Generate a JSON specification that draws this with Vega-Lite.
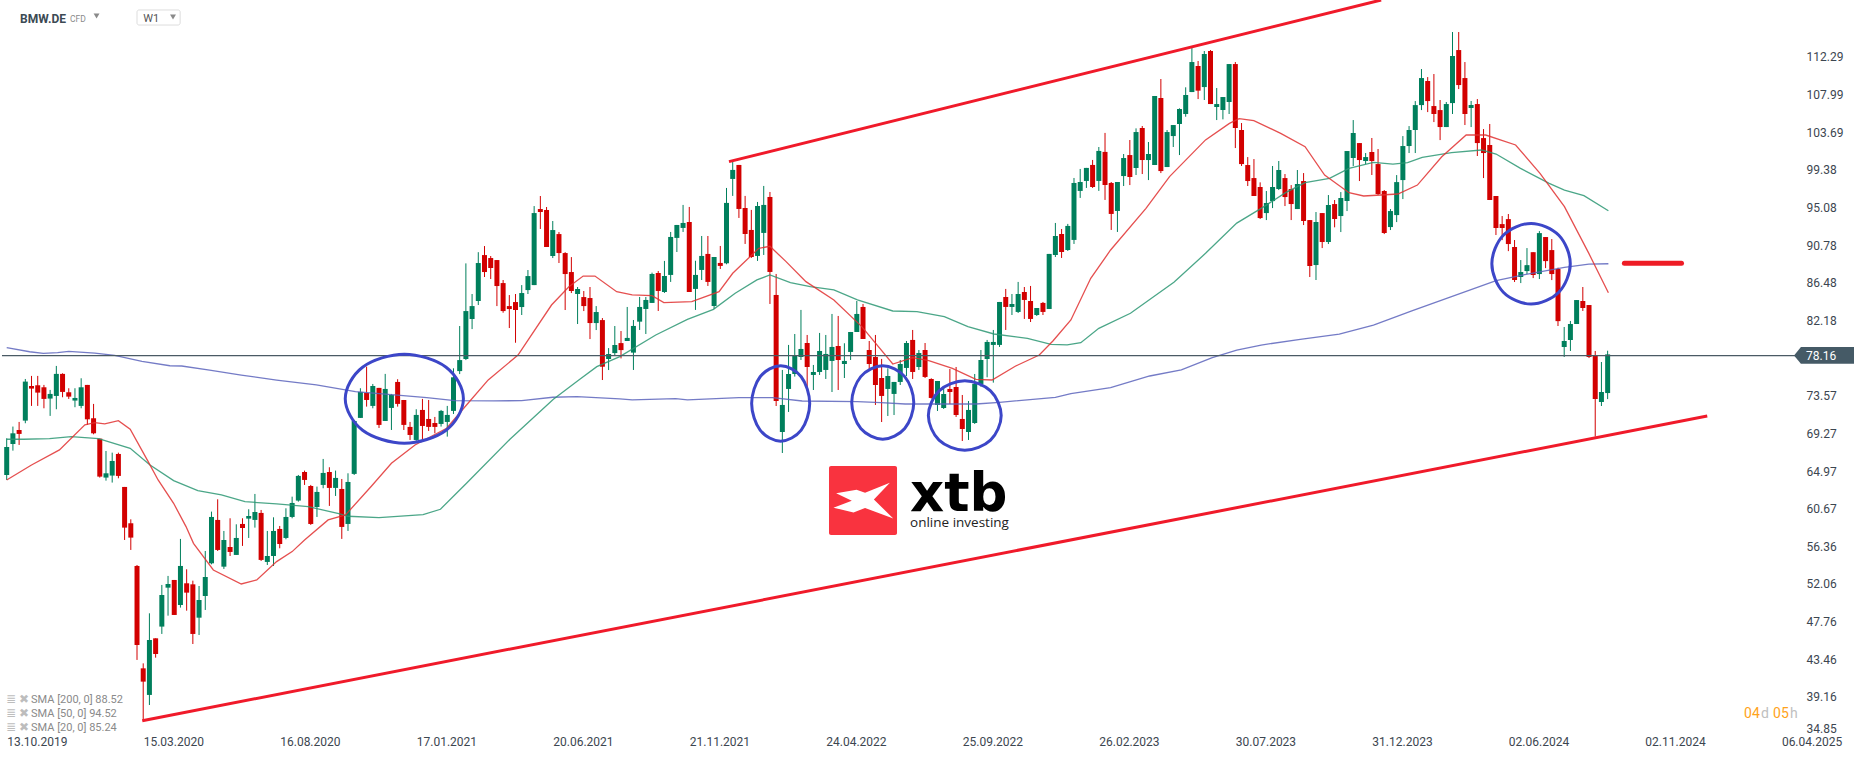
{
"$schema":"https://vega.github.io/schema/vega-lite/v6.json",
"description":"BMW.DE weekly candles with SMA lines and channel",
"width":1866,"height":759,"padding":{"left":0,"top":0,"right":0,"bottom":0},"background":"white",
"autosize":{"type":"none"},
"config":{"view":{"stroke":null},"text":{"font":"Roboto"}},
"datasets":{
"candles":[
{"w":0,"o":64.52,"h":68.71,"l":63.95,"c":67.72},{"w":1,"o":68.06,"h":70.05,"l":67.30,"c":69.28},{"w":2,"o":69.66,"h":70.58,"l":67.95,"c":69.21},{"w":3,"o":70.73,"h":75.49,"l":70.43,"c":75.19},{"w":4,"o":74.69,"h":75.84,"l":72.41,"c":74.39},{"w":5,"o":74.77,"h":75.84,"l":72.41,"c":73.93},{"w":6,"o":74.54,"h":74.81,"l":72.14,"c":73.21},{"w":7,"o":73.25,"h":74.24,"l":71.27,"c":73.78},{"w":8,"o":73.55,"h":76.98,"l":72.03,"c":76.07},{"w":9,"o":76.07,"h":76.14,"l":73.40,"c":74.01},
{"w":10,"o":73.97,"h":74.43,"l":73.21,"c":73.47},{"w":11,"o":73.02,"h":74.43,"l":72.26,"c":73.32},{"w":12,"o":72.41,"h":75.57,"l":72.14,"c":74.54},{"w":13,"o":74.81,"h":74.81,"l":70.24,"c":70.88},{"w":14,"o":71.0,"h":72.64,"l":69.17,"c":69.28},{"w":15,"o":68.67,"h":68.67,"l":64.22,"c":64.33},{"w":16,"o":64.22,"h":67.26,"l":63.87,"c":64.71},{"w":17,"o":64.45,"h":67.07,"l":63.65,"c":66.12},{"w":18,"o":66.92,"h":67.07,"l":64.14,"c":64.41},{"w":19,"o":63.15,"h":63.15,"l":57.09,"c":58.50},
{"w":20,"o":59.0,"h":59.45,"l":55.95,"c":57.36},{"w":21,"o":54.12,"h":54.23,"l":43.38,"c":45.09},{"w":22,"o":42.42,"h":42.99,"l":36.44,"c":40.90},{"w":23,"o":39.38,"h":48.71,"l":38.23,"c":45.66},{"w":24,"o":45.85,"h":45.85,"l":43.64,"c":44.06},{"w":25,"o":47.19,"h":51.95,"l":46.35,"c":50.80},{"w":26,"o":51.64,"h":52.98,"l":48.44,"c":52.06},{"w":27,"o":52.52,"h":52.52,"l":48.52,"c":48.52},{"w":28,"o":49.66,"h":57.21,"l":49.36,"c":54.12},{"w":29,"o":52.14,"h":53.74,"l":49.01,"c":51.07},
{"w":30,"o":52.02,"h":52.44,"l":45.20,"c":46.35},{"w":31,"o":48.21,"h":51.83,"l":46.23,"c":50.23},{"w":32,"o":50.69,"h":55.83,"l":49.09,"c":52.86},{"w":33,"o":54.42,"h":60.33,"l":54.31,"c":59.72},{"w":34,"o":59.38,"h":61.74,"l":55.83,"c":55.95},{"w":35,"o":54.04,"h":58.12,"l":53.78,"c":57.09},{"w":36,"o":56.29,"h":59.57,"l":55.26,"c":55.72},{"w":37,"o":55.38,"h":58.88,"l":55.38,"c":57.32},{"w":38,"o":58.92,"h":59.57,"l":56.41,"c":58.46},{"w":39,"o":59.53,"h":60.60,"l":57.32,"c":59.83},
{"w":40,"o":59.38,"h":62.35,"l":58.50,"c":60.29},{"w":41,"o":60.18,"h":60.52,"l":54.69,"c":54.81},{"w":42,"o":54.58,"h":58.12,"l":54.23,"c":55.26},{"w":43,"o":55.26,"h":59.68,"l":54.12,"c":58.12},{"w":44,"o":58.35,"h":58.69,"l":56.14,"c":56.63},{"w":45,"o":57.32,"h":60.71,"l":57.17,"c":59.72},{"w":46,"o":59.72,"h":62.04,"l":59.57,"c":61.32},{"w":47,"o":61.59,"h":64.52,"l":61.47,"c":64.41},{"w":48,"o":64.86,"h":65.02,"l":63.38,"c":63.95},{"w":49,"o":63.26,"h":63.38,"l":58.81,"c":58.92},
{"w":50,"o":60.86,"h":63.19,"l":59.72,"c":62.58},{"w":51,"o":63.38,"h":66.35,"l":63.0,"c":64.75},{"w":52,"o":64.86,"h":65.4,"l":60.98,"c":63.04},{"w":53,"o":63.04,"h":65.02,"l":62.12,"c":64.18},{"w":54,"o":62.92,"h":64.06,"l":57.21,"c":58.58},{"w":55,"o":58.92,"h":64.71,"l":58.12,"c":63.72},{"w":56,"o":64.64,"h":70.81,"l":64.52,"c":70.69},{"w":57,"o":71.04,"h":74.43,"l":71.04,"c":74.01},{"w":58,"o":73.89,"h":76.90,"l":72.33,"c":73.09},{"w":59,"o":72.41,"h":74.92,"l":72.14,"c":74.69},
{"w":60,"o":74.47,"h":74.47,"l":69.89,"c":70.24},{"w":61,"o":70.69,"h":76.07,"l":70.69,"c":74.35},{"w":62,"o":72.18,"h":73.78,"l":69.66,"c":73.67},{"w":63,"o":75.15,"h":75.46,"l":72.33,"c":72.64},{"w":64,"o":73.09,"h":73.09,"l":69.66,"c":70.24},{"w":65,"o":70.01,"h":70.58,"l":68.52,"c":69.09},{"w":66,"o":68.52,"h":72.03,"l":68.41,"c":71.38},{"w":67,"o":71.95,"h":73.21,"l":68.52,"c":70.12},{"w":68,"o":70.92,"h":73.09,"l":69.55,"c":70.01},{"w":69,"o":70.46,"h":71.15,"l":69.28,"c":70.01},
{"w":70,"o":70.35,"h":71.95,"l":70.05,"c":71.84},{"w":71,"o":70.58,"h":72.41,"l":68.90,"c":71.38},{"w":72,"o":71.84,"h":76.71,"l":71.49,"c":75.68},{"w":73,"o":76.39,"h":81.54,"l":76.05,"c":77.65},{"w":74,"o":77.77,"h":88.70,"l":77.65,"c":83.25},{"w":75,"o":82.34,"h":85.20,"l":81.19,"c":83.82},{"w":76,"o":84.40,"h":89.98,"l":83.94,"c":88.74},{"w":77,"o":89.65,"h":90.68,"l":87.14,"c":87.71},{"w":78,"o":89.31,"h":89.54,"l":86.91,"c":88.17},{"w":79,"o":89.08,"h":89.08,"l":83.82,"c":86.11},
{"w":80,"o":86.45,"h":86.80,"l":83.06,"c":83.25},{"w":81,"o":83.82,"h":85.08,"l":81.31,"c":83.48},{"w":82,"o":84.28,"h":85.20,"l":79.63,"c":83.37},{"w":83,"o":83.71,"h":86.22,"l":82.80,"c":85.31},{"w":84,"o":85.65,"h":87.94,"l":85.20,"c":87.25},{"w":85,"o":86.22,"h":95.25,"l":86.22,"c":94.45},{"w":86,"o":94.91,"h":96.40,"l":92.63,"c":94.57},{"w":87,"o":94.80,"h":95.14,"l":90.57,"c":90.57},{"w":88,"o":89.54,"h":93.54,"l":89.31,"c":92.51},{"w":89,"o":92.05,"h":92.28,"l":88.74,"c":89.88},
{"w":90,"o":89.88,"h":89.98,"l":83.37,"c":87.48},{"w":91,"o":87.71,"h":89.42,"l":85.31,"c":85.54},{"w":92,"o":85.20,"h":86.0,"l":81.77,"c":85.77},{"w":93,"o":84.85,"h":85.54,"l":83.25,"c":83.82},{"w":94,"o":84.74,"h":86.0,"l":80.05,"c":81.88},{"w":95,"o":81.88,"h":83.82,"l":81.08,"c":83.14},{"w":96,"o":82.22,"h":82.45,"l":75.37,"c":76.89},{"w":97,"o":77.77,"h":79.02,"l":76.51,"c":78.34},{"w":98,"o":78.45,"h":81.54,"l":78.22,"c":79.37},{"w":99,"o":79.59,"h":80.97,"l":77.84,"c":78.79},
{"w":100,"o":79.83,"h":83.72,"l":79.83,"c":80.18},{"w":101,"o":78.50,"h":82.23,"l":76.52,"c":81.55},{"w":102,"o":82.04,"h":84.86,"l":81.09,"c":83.72},{"w":103,"o":83.49,"h":84.86,"l":80.63,"c":84.52},{"w":104,"o":84.18,"h":87.64,"l":84.18,"c":87.49},{"w":105,"o":87.60,"h":87.83,"l":83.26,"c":85.55},{"w":106,"o":85.43,"h":88.98,"l":85.32,"c":87.26},{"w":107,"o":87.38,"h":92.29,"l":86.58,"c":91.72},{"w":108,"o":91.61,"h":93.09,"l":90.0,"c":93.09},{"w":109,"o":92.75,"h":95.38,"l":92.29,"c":93.32},
{"w":110,"o":93.43,"h":95.15,"l":85.43,"c":85.43},{"w":111,"o":85.78,"h":89.0,"l":83.38,"c":87.38},{"w":112,"o":87.95,"h":91.83,"l":86.80,"c":89.55},{"w":113,"o":89.78,"h":91.83,"l":86.12,"c":86.58},{"w":114,"o":83.83,"h":89.43,"l":83.49,"c":89.43},{"w":115,"o":88.75,"h":90.69,"l":88.06,"c":88.41},{"w":116,"o":88.71,"h":97.32,"l":88.60,"c":95.61},{"w":117,"o":98.35,"h":100.29,"l":96.41,"c":99.38},{"w":118,"o":99.95,"h":99.95,"l":93.89,"c":94.92},{"w":119,"o":95.03,"h":96.41,"l":90.92,"c":92.06},
{"w":120,"o":92.52,"h":94.81,"l":89.32,"c":89.43},{"w":121,"o":89.55,"h":95.72,"l":88.98,"c":95.26},{"w":122,"o":92.18,"h":97.55,"l":89.66,"c":95.38},{"w":123,"o":96.29,"h":96.86,"l":84.06,"c":87.72},{"w":124,"o":85.09,"h":87.49,"l":72.40,"c":72.97},{"w":125,"o":69.43,"h":76.52,"l":67.03,"c":72.52},{"w":126,"o":74.35,"h":79.38,"l":71.72,"c":76.06},{"w":127,"o":76.06,"h":80.63,"l":75.76,"c":78.12},{"w":128,"o":78.0,"h":83.38,"l":77.66,"c":78.92},{"w":129,"o":79.60,"h":80.52,"l":74.23,"c":76.86},
{"w":130,"o":75.95,"h":77.09,"l":74.23,"c":76.29},{"w":131,"o":76.29,"h":80.75,"l":75.95,"c":78.69},{"w":132,"o":76.52,"h":80.52,"l":75.49,"c":78.35},{"w":133,"o":77.55,"h":82.92,"l":74.0,"c":79.15},{"w":134,"o":79.26,"h":82.69,"l":74.23,"c":77.66},{"w":135,"o":77.20,"h":79.57,"l":75.60,"c":77.55},{"w":136,"o":78.58,"h":80.86,"l":77.66,"c":80.86},{"w":137,"o":80.86,"h":84.40,"l":80.86,"c":82.92},{"w":138,"o":83.72,"h":84.06,"l":80.06,"c":80.06},{"w":139,"o":78.80,"h":79.83,"l":76.52,"c":77.20},
{"w":140,"o":78.0,"h":80.52,"l":72.52,"c":74.80},{"w":141,"o":75.60,"h":77.78,"l":70.57,"c":73.55},{"w":142,"o":74.35,"h":76.71,"l":71.26,"c":75.83},{"w":143,"o":73.78,"h":75.15,"l":71.37,"c":75.15},{"w":144,"o":75.15,"h":77.66,"l":74.80,"c":77.20},{"w":145,"o":76.75,"h":79.83,"l":75.83,"c":79.60},{"w":146,"o":79.95,"h":81.09,"l":75.49,"c":76.29},{"w":147,"o":76.86,"h":78.80,"l":76.52,"c":78.46},{"w":148,"o":78.80,"h":79.60,"l":75.60,"c":75.72},{"w":149,"o":75.49,"h":75.57,"l":73.24,"c":73.32},
{"w":150,"o":72.52,"h":75.26,"l":71.83,"c":75.26},{"w":151,"o":72.17,"h":74.42,"l":72.06,"c":73.77},{"w":152,"o":74.35,"h":76.63,"l":72.63,"c":74.0},{"w":153,"o":74.57,"h":76.86,"l":71.15,"c":71.37},{"w":154,"o":70.92,"h":73.66,"l":68.40,"c":69.77},{"w":155,"o":69.43,"h":72.97,"l":68.52,"c":71.95},{"w":156,"o":70.46,"h":76.06,"l":70.35,"c":74.92},{"w":157,"o":74.92,"h":78.80,"l":74.61,"c":77.66},{"w":158,"o":77.77,"h":79.95,"l":75.68,"c":79.72},{"w":159,"o":79.38,"h":81.09,"l":75.07,"c":79.72},
{"w":160,"o":79.38,"h":84.29,"l":79.15,"c":84.29},{"w":161,"o":84.86,"h":85.78,"l":81.09,"c":83.72},{"w":162,"o":83.72,"h":85.20,"l":82.80,"c":84.06},{"w":163,"o":83.15,"h":86.58,"l":83.03,"c":85.20},{"w":164,"o":85.43,"h":86.0,"l":82.35,"c":84.52},{"w":165,"o":84.40,"h":86.12,"l":82.0,"c":82.35},{"w":166,"o":82.80,"h":83.60,"l":82.69,"c":83.60},{"w":167,"o":84.18,"h":84.29,"l":82.80,"c":83.15},{"w":168,"o":83.49,"h":89.78,"l":83.49,"c":89.78},{"w":169,"o":89.66,"h":93.32,"l":89.43,"c":91.83},
{"w":170,"o":92.06,"h":92.63,"l":89.32,"c":90.0},{"w":171,"o":90.23,"h":93.21,"l":90.12,"c":92.98},{"w":172,"o":91.38,"h":98.46,"l":90.92,"c":97.89},{"w":173,"o":96.98,"h":99.49,"l":96.18,"c":98.0},{"w":174,"o":98.12,"h":99.61,"l":97.32,"c":99.61},{"w":175,"o":99.95,"h":100.52,"l":97.32,"c":97.43},{"w":176,"o":98.12,"h":102.0,"l":96.98,"c":101.55},{"w":177,"o":101.44,"h":103.61,"l":95.95,"c":97.66},{"w":178,"o":97.89,"h":98.0,"l":92.52,"c":94.35},{"w":179,"o":94.69,"h":98.0,"l":92.29,"c":98.0},
{"w":180,"o":98.68,"h":101.20,"l":97.54,"c":100.74},{"w":181,"o":101.08,"h":102.80,"l":97.65,"c":98.57},{"w":182,"o":99.60,"h":104.13,"l":98.80,"c":103.71},{"w":183,"o":104.17,"h":104.40,"l":98.91,"c":100.51},{"w":184,"o":100.51,"h":102.57,"l":98.22,"c":101.20},{"w":185,"o":99.94,"h":107.83,"l":99.94,"c":107.83},{"w":186,"o":107.60,"h":109.77,"l":99.02,"c":99.25},{"w":187,"o":99.71,"h":103.94,"l":99.71,"c":103.71},{"w":188,"o":103.25,"h":104.51,"l":102.0,"c":104.51},{"w":189,"o":104.63,"h":106.42,"l":101.08,"c":106.34},
{"w":190,"o":105.77,"h":108.82,"l":105.46,"c":107.94},{"w":191,"o":108.28,"h":113.31,"l":108.28,"c":111.71},{"w":192,"o":111.26,"h":111.83,"l":107.48,"c":108.44},{"w":193,"o":108.85,"h":112.97,"l":107.37,"c":112.63},{"w":194,"o":112.97,"h":113.08,"l":106.91,"c":106.91},{"w":195,"o":106.57,"h":108.74,"l":105.08,"c":106.91},{"w":196,"o":106.23,"h":107.71,"l":105.16,"c":107.71},{"w":197,"o":107.14,"h":111.48,"l":105.77,"c":111.48},{"w":198,"o":111.48,"h":111.71,"l":101.88,"c":104.17},{"w":199,"o":103.94,"h":104.74,"l":99.83,"c":100.05},
{"w":200,"o":99.94,"h":100.85,"l":97.54,"c":98.11},{"w":201,"o":98.45,"h":100.62,"l":96.40,"c":96.40},{"w":202,"o":97.43,"h":97.96,"l":93.77,"c":93.88},{"w":203,"o":94.45,"h":96.97,"l":93.65,"c":95.60},{"w":204,"o":95.82,"h":99.83,"l":95.02,"c":97.43},{"w":205,"o":97.20,"h":100.40,"l":97.08,"c":99.37},{"w":206,"o":98.45,"h":98.91,"l":95.25,"c":96.28},{"w":207,"o":97.20,"h":97.65,"l":93.65,"c":95.48},{"w":208,"o":94.91,"h":99.37,"l":94.91,"c":97.77},{"w":209,"o":98.11,"h":99.02,"l":93.08,"c":93.54},
{"w":210,"o":93.65,"h":93.65,"l":87.14,"c":88.40},{"w":211,"o":88.51,"h":94.57,"l":86.80,"c":93.43},{"w":212,"o":94.45,"h":94.45,"l":90.45,"c":91.14},{"w":213,"o":91.14,"h":96.51,"l":90.91,"c":95.37},{"w":214,"o":95.48,"h":95.94,"l":92.82,"c":93.77},{"w":215,"o":94.11,"h":96.85,"l":92.28,"c":96.17},{"w":216,"o":95.83,"h":101.54,"l":94.68,"c":101.54},{"w":217,"o":100.74,"h":105.08,"l":99.83,"c":103.60},{"w":218,"o":102.45,"h":102.45,"l":98.11,"c":100.51},{"w":219,"o":100.40,"h":101.31,"l":100.05,"c":100.85},
{"w":220,"o":101.43,"h":103.03,"l":98.80,"c":100.40},{"w":221,"o":100.05,"h":101.77,"l":96.51,"c":96.62},{"w":222,"o":96.97,"h":97.08,"l":92.05,"c":92.17},{"w":223,"o":92.85,"h":94.91,"l":92.51,"c":94.68},{"w":224,"o":94.22,"h":98.79,"l":93.42,"c":97.99},{"w":225,"o":98.22,"h":103.25,"l":96.05,"c":102.11},{"w":226,"o":102.11,"h":104.39,"l":101.31,"c":103.94},{"w":227,"o":103.94,"h":107.25,"l":101.31,"c":106.79},{"w":228,"o":106.79,"h":110.91,"l":106.22,"c":109.88},{"w":229,"o":109.54,"h":109.99,"l":105.99,"c":107.25},
{"w":230,"o":106.68,"h":110.34,"l":104.85,"c":105.77},{"w":231,"o":106.22,"h":107.37,"l":102.79,"c":104.28},{"w":232,"o":104.28,"h":107.14,"l":104.28,"c":106.91},{"w":233,"o":107.02,"h":115.14,"l":105.77,"c":112.40},{"w":234,"o":113.08,"h":115.14,"l":108.62,"c":109.08},{"w":235,"o":109.88,"h":111.71,"l":104.51,"c":105.77},{"w":236,"o":106.46,"h":107.26,"l":104.28,"c":106.80},{"w":237,"o":106.91,"h":107.48,"l":100.97,"c":102.45},{"w":238,"o":103.02,"h":104.05,"l":98.45,"c":101.31},{"w":239,"o":102.23,"h":104.63,"l":95.94,"c":95.94},
{"w":240,"o":96.40,"h":96.40,"l":91.94,"c":92.74},{"w":241,"o":93.19,"h":94.11,"l":91.36,"c":92.74},{"w":242,"o":93.76,"h":94.34,"l":90.10,"c":90.91},{"w":243,"o":90.57,"h":91.37,"l":86.57,"c":86.80},{"w":244,"o":87.14,"h":89.08,"l":86.45,"c":87.71},{"w":245,"o":87.82,"h":90.45,"l":87.48,"c":88.50},{"w":246,"o":89.98,"h":89.98,"l":87.02,"c":87.37},{"w":247,"o":87.48,"h":92.39,"l":86.91,"c":92.16},{"w":248,"o":91.71,"h":91.71,"l":88.16,"c":88.96},{"w":249,"o":90.22,"h":91.48,"l":86.79,"c":87.48},
{"w":250,"o":88.06,"h":88.21,"l":81.54,"c":82.10},{"w":251,"o":79.14,"h":81.43,"l":78.0,"c":79.83},{"w":252,"o":79.94,"h":82.12,"l":78.69,"c":81.77},{"w":253,"o":81.77,"h":84.51,"l":81.77,"c":84.51},{"w":254,"o":84.40,"h":86.0,"l":83.26,"c":83.60},{"w":255,"o":83.94,"h":83.94,"l":77.88,"c":78.0},{"w":256,"o":78.15,"h":78.69,"l":68.90,"c":73.20},{"w":257,"o":72.86,"h":77.43,"l":72.40,"c":74.0},{"w":258,"o":73.88,"h":78.72,"l":73.19,"c":78.30}
],
"sma":[
{"s":"SMA200","w":0,"p":79.06},{"s":"SMA200","w":3.7,"p":78.6},{"s":"SMA200","w":5.9,"p":78.41},{"s":"SMA200","w":8.2,"p":78.49},{"s":"SMA200","w":10,"p":78.64},{"s":"SMA200","w":14.2,"p":78.45},{"s":"SMA200","w":17.4,"p":78.19},{"s":"SMA200","w":21.8,"p":77.5},{"s":"SMA200","w":26.3,"p":77.0},{"s":"SMA200","w":28.2,"p":76.97},{"s":"SMA200","w":32.7,"p":76.51},{"s":"SMA200","w":37.8,"p":75.94},{"s":"SMA200","w":43.5,"p":75.37},{"s":"SMA200","w":49.9,"p":74.81},{"s":"SMA200","w":56.2,"p":74.05},{"s":"SMA200","w":63.9,"p":73.59},{"s":"SMA200","w":67.7,"p":73.36},{"s":"SMA200","w":72.2,"p":73.02},{"s":"SMA200","w":78.5,"p":72.98},{"s":"SMA200","w":83,"p":73.02},{"s":"SMA200","w":88,"p":73.4},{"s":"SMA200","w":91.9,"p":73.47},{"s":"SMA200","w":98.8,"p":73.21},{"s":"SMA200","w":100.8,"p":73.09},{"s":"SMA200","w":107.8,"p":73.24},{"s":"SMA200","w":109.7,"p":73.09},{"s":"SMA200","w":118,"p":73.36},{"s":"SMA200","w":123.4,"p":73.36},{"s":"SMA200","w":128.2,"p":72.97},{"s":"SMA200","w":137.1,"p":72.9},{"s":"SMA200","w":140.9,"p":72.78},{"s":"SMA200","w":144.8,"p":72.63},{"s":"SMA200","w":156.2,"p":72.63},{"s":"SMA200","w":160,"p":72.82},{"s":"SMA200","w":169,"p":73.39},{"s":"SMA200","w":171.5,"p":73.81},{"s":"SMA200","w":177.9,"p":74.5},{"s":"SMA200","w":184.2,"p":75.83},{"s":"SMA200","w":189.3,"p":76.52},{"s":"SMA200","w":194.29,"p":77.92},{"s":"SMA200","w":198.23,"p":78.8},{"s":"SMA200","w":202.16,"p":79.37},{"s":"SMA200","w":208.46,"p":80.01},{"s":"SMA200","w":214.75,"p":80.62},{"s":"SMA200","w":220.26,"p":81.65},{"s":"SMA200","w":226.55,"p":83.29},{"s":"SMA200","w":232.84,"p":84.89},{"s":"SMA200","w":240.02,"p":86.72},{"s":"SMA200","w":244.64,"p":87.41},{"s":"SMA200","w":251.04,"p":88.24},{"s":"SMA200","w":254.97,"p":88.62},{"s":"SMA200","w":258.12,"p":88.66},
{"s":"SMA50","w":0,"p":68.6},{"s":"SMA50","w":2.7,"p":68.6},{"s":"SMA50","w":6.9,"p":68.67},{"s":"SMA50","w":10.4,"p":68.9},{"s":"SMA50","w":14.8,"p":68.67},{"s":"SMA50","w":19.9,"p":67.57},{"s":"SMA50","w":23.1,"p":65.66},{"s":"SMA50","w":26.9,"p":63.87},{"s":"SMA50","w":30.8,"p":62.73},{"s":"SMA50","w":34.6,"p":62.24},{"s":"SMA50","w":38.4,"p":61.47},{"s":"SMA50","w":43.5,"p":61.21},{"s":"SMA50","w":48.6,"p":60.9},{"s":"SMA50","w":53.7,"p":60.06},{"s":"SMA50","w":55,"p":59.8},{"s":"SMA50","w":60,"p":59.64},{"s":"SMA50","w":67.1,"p":59.99},{"s":"SMA50","w":69.9,"p":60.6},{"s":"SMA50","w":74.1,"p":63.57},{"s":"SMA50","w":81.1,"p":68.6},{"s":"SMA50","w":88.1,"p":73.17},{"s":"SMA50","w":92.2,"p":75.38},{"s":"SMA50","w":95.1,"p":76.9},{"s":"SMA50","w":98.8,"p":78.05},{"s":"SMA50","w":104.6,"p":80.52},{"s":"SMA50","w":109.7,"p":82.31},{"s":"SMA50","w":113.9,"p":83.45},{"s":"SMA50","w":117.4,"p":85.28},{"s":"SMA50","w":120.9,"p":86.81},{"s":"SMA50","w":123,"p":87.38},{"s":"SMA50","w":126.3,"p":86.5},{"s":"SMA50","w":129.5,"p":86.04},{"s":"SMA50","w":133.3,"p":85.66},{"s":"SMA50","w":137.1,"p":84.52},{"s":"SMA50","w":142.8,"p":83.26},{"s":"SMA50","w":146.7,"p":83.19},{"s":"SMA50","w":151.1,"p":82.61},{"s":"SMA50","w":154.9,"p":81.47},{"s":"SMA50","w":159.1,"p":80.63},{"s":"SMA50","w":164.5,"p":80.14},{"s":"SMA50","w":168.3,"p":79.45},{"s":"SMA50","w":170.9,"p":79.38},{"s":"SMA50","w":173.1,"p":79.64},{"s":"SMA50","w":176,"p":81.28},{"s":"SMA50","w":181.1,"p":83.0},{"s":"SMA50","w":188.1,"p":86.54},{"s":"SMA50","w":193.2,"p":89.85},{"s":"SMA50","w":198.23,"p":93.3},{"s":"SMA50","w":202.16,"p":94.99},{"s":"SMA50","w":206.1,"p":96.78},{"s":"SMA50","w":209.24,"p":97.92},{"s":"SMA50","w":213.18,"p":98.42},{"s":"SMA50","w":216.32,"p":99.56},{"s":"SMA50","w":220.26,"p":100.25},{"s":"SMA50","w":223.4,"p":100.05},{"s":"SMA50","w":225.76,"p":100.21},{"s":"SMA50","w":228.12,"p":100.82},{"s":"SMA50","w":232.84,"p":101.35},{"s":"SMA50","w":237.66,"p":101.66},{"s":"SMA50","w":240.02,"p":101.2},{"s":"SMA50","w":243.96,"p":99.56},{"s":"SMA50","w":248.58,"p":97.84},{"s":"SMA50","w":251.04,"p":97.08},{"s":"SMA50","w":254.18,"p":96.44},{"s":"SMA50","w":258.12,"p":94.72},
{"s":"SMA20","w":0,"p":63.95},{"s":"SMA20","w":4,"p":65.66},{"s":"SMA20","w":8.5,"p":67.38},{"s":"SMA20","w":12.6,"p":70.24},{"s":"SMA20","w":14.2,"p":70.5},{"s":"SMA20","w":15.8,"p":70.35},{"s":"SMA20","w":18,"p":70.73},{"s":"SMA20","w":19.9,"p":69.74},{"s":"SMA20","w":22.8,"p":66.05},{"s":"SMA20","w":24.4,"p":63.95},{"s":"SMA20","w":26.9,"p":61.28},{"s":"SMA20","w":28.9,"p":58.62},{"s":"SMA20","w":30.1,"p":56.71},{"s":"SMA20","w":33.3,"p":53.66},{"s":"SMA20","w":37.8,"p":52.06},{"s":"SMA20","w":40.3,"p":52.52},{"s":"SMA20","w":43.5,"p":54.62},{"s":"SMA20","w":46,"p":55.76},{"s":"SMA20","w":48,"p":57.09},{"s":"SMA20","w":51.8,"p":59.38},{"s":"SMA20","w":54.6,"p":59.95},{"s":"SMA20","w":58.8,"p":63.26},{"s":"SMA20","w":62,"p":65.86},{"s":"SMA20","w":65.8,"p":67.95},{"s":"SMA20","w":70.9,"p":69.86},{"s":"SMA20","w":74.1,"p":72.52},{"s":"SMA20","w":77.6,"p":75.38},{"s":"SMA20","w":82.4,"p":78.22},{"s":"SMA20","w":87.8,"p":83.94},{"s":"SMA20","w":90.6,"p":86.03},{"s":"SMA20","w":92.9,"p":87.25},{"s":"SMA20","w":94.8,"p":87.25},{"s":"SMA20","w":98.3,"p":85.46},{"s":"SMA20","w":100.8,"p":85.09},{"s":"SMA20","w":104,"p":85.01},{"s":"SMA20","w":105.9,"p":84.21},{"s":"SMA20","w":110.4,"p":84.33},{"s":"SMA20","w":114.8,"p":85.47},{"s":"SMA20","w":117,"p":87.57},{"s":"SMA20","w":121.2,"p":90.42},{"s":"SMA20","w":123,"p":90.65},{"s":"SMA20","w":125.6,"p":88.9},{"s":"SMA20","w":128.8,"p":86.61},{"s":"SMA20","w":133.3,"p":84.52},{"s":"SMA20","w":137.8,"p":81.47},{"s":"SMA20","w":142.8,"p":77.2},{"s":"SMA20","w":146,"p":77.93},{"s":"SMA20","w":148.6,"p":77.58},{"s":"SMA20","w":152.4,"p":76.71},{"s":"SMA20","w":156.2,"p":75.45},{"s":"SMA20","w":158.8,"p":75.37},{"s":"SMA20","w":162.6,"p":76.97},{"s":"SMA20","w":166.4,"p":78.23},{"s":"SMA20","w":168.6,"p":79.83},{"s":"SMA20","w":171.5,"p":82.23},{"s":"SMA20","w":174.7,"p":86.99},{"s":"SMA20","w":177.9,"p":90.23},{"s":"SMA20","w":183.6,"p":94.99},{"s":"SMA20","w":187.4,"p":98.62},{"s":"SMA20","w":193.2,"p":102.81},{"s":"SMA20","w":197.05,"p":104.7},{"s":"SMA20","w":198.62,"p":105.24},{"s":"SMA20","w":200.98,"p":105.01},{"s":"SMA20","w":205.31,"p":103.56},{"s":"SMA20","w":209.24,"p":102.04},{"s":"SMA20","w":212.39,"p":98.8},{"s":"SMA20","w":216.32,"p":96.78},{"s":"SMA20","w":218.68,"p":96.4},{"s":"SMA20","w":224.19,"p":96.63},{"s":"SMA20","w":227.34,"p":97.65},{"s":"SMA20","w":231.27,"p":100.89},{"s":"SMA20","w":235.2,"p":103.37},{"s":"SMA20","w":238.35,"p":103.37},{"s":"SMA20","w":243.17,"p":102.23},{"s":"SMA20","w":247.1,"p":98.99},{"s":"SMA20","w":251.04,"p":95.18},{"s":"SMA20","w":254.97,"p":89.84},{"s":"SMA20","w":258.12,"p":85.35}
],
"rings":[
{"g":"a","n":0,"w":73.6,"p":73.23},{"g":"a","n":1,"w":70.81,"p":76.83},{"g":"a","n":2,"w":64.08,"p":78.32},{"g":"a","n":3,"w":57.35,"p":76.83},{"g":"a","n":4,"w":54.56,"p":73.23},{"g":"a","n":5,"w":57.35,"p":69.63},{"g":"a","n":6,"w":64.08,"p":68.14},{"g":"a","n":7,"w":70.81,"p":69.63},
{"g":"b","n":0,"w":129.41,"p":72.69},{"g":"b","n":1,"w":128.04,"p":75.74},{"g":"b","n":2,"w":124.73,"p":77.0},{"g":"b","n":3,"w":121.42,"p":75.74},{"g":"b","n":4,"w":120.05,"p":72.69},{"g":"b","n":5,"w":121.42,"p":69.64},{"g":"b","n":6,"w":124.73,"p":68.38},{"g":"b","n":7,"w":128.04,"p":69.64},
{"g":"c","n":0,"w":146.18,"p":72.8},{"g":"c","n":1,"w":144.72,"p":75.76},{"g":"c","n":2,"w":141.18,"p":76.99},{"g":"c","n":3,"w":137.64,"p":75.76},{"g":"c","n":4,"w":136.18,"p":72.8},{"g":"c","n":5,"w":137.64,"p":69.84},{"g":"c","n":6,"w":141.18,"p":68.61},{"g":"c","n":7,"w":144.72,"p":69.84},
{"g":"d","n":0,"w":160.27,"p":71.31},{"g":"d","n":1,"w":158.55,"p":74.12},{"g":"d","n":2,"w":154.4,"p":75.28},{"g":"d","n":3,"w":150.25,"p":74.12},{"g":"d","n":4,"w":148.53,"p":71.31},{"g":"d","n":5,"w":150.25,"p":68.5},{"g":"d","n":6,"w":154.4,"p":67.34},{"g":"d","n":7,"w":158.55,"p":68.5},
{"g":"e","n":0,"w":251.98,"p":88.66},{"g":"e","n":1,"w":250.13,"p":91.92},{"g":"e","n":2,"w":245.66,"p":93.27},{"g":"e","n":3,"w":241.19,"p":91.92},{"g":"e","n":4,"w":239.34,"p":88.66},{"g":"e","n":5,"w":241.19,"p":85.4},{"g":"e","n":6,"w":245.66,"p":84.05},{"g":"e","n":7,"w":250.13,"p":85.4}
]
},
"encoding":{
"x":{"field":"w","type":"quantitative","title":null,
"scale":{"domain":[-1.08,289.0],"range":[0,1800],"padding":0,"nice":false,"zero":false},
"axis":{"offset":-25,"values":[0,22,44,66,88,110,132,154,176,198,220,242,264,286],"labelExpr":"['13.10.2019','15.03.2020','16.08.2020','17.01.2021','20.06.2021','21.11.2021','24.04.2022','25.09.2022','26.02.2023','30.07.2023','31.12.2023','02.06.2024','02.11.2024','06.04.2025'][datum.value/22]","labelAlign":"left","labelPadding":2,"labelFont":"Roboto","labelFontSize":12,"labelColor":"#3c4650","labelOverlap":false,"labelFlush":false,"labelBound":false,"ticks":false,"domain":false,"grid":false}},
"y":{"field":"p","type":"quantitative","title":null,
"scale":{"domain":[35.03,118.8],"range":[733,0],"nice":false,"zero":false},
"axis":{"orient":"right","offset":-66,"values":[112.29,107.99,103.69,99.38,95.08,90.78,86.48,82.18,73.57,69.27,64.97,60.67,56.36,52.06,47.76,43.46,39.16,35.5],"labelExpr":"datum.value==35.5?'34.85':format(datum.value,'.2f')","labelPadding":6,"labelFont":"Roboto","labelFontSize":12,"labelColor":"#3c4650","labelOverlap":false,"labelBound":false,"ticks":false,"domain":false,"grid":false}}
},
"layer":[
{"data":{"name":"candles"},"mark":{"type":"rule","strokeWidth":1},
"encoding":{"y":{"field":"h","type":"quantitative","title":null,"scale":{"domain":[35.03,118.8],"range":[733,0],"nice":false,"zero":false},"axis":{"orient":"right","offset":-66,"values":[112.29,107.99,103.69,99.38,95.08,90.78,86.48,82.18,73.57,69.27,64.97,60.67,56.36,52.06,47.76,43.46,39.16,35.5],"labelExpr":"datum.value==35.5?'34.85':format(datum.value,'.2f')","labelPadding":6,"labelFont":"Roboto","labelFontSize":12,"labelColor":"#3c4650","labelOverlap":false,"labelBound":false,"ticks":false,"domain":false,"grid":false}},"y2":{"field":"l"},
"color":{"condition":{"test":"datum.c>=datum.o","value":"#007f5c"},"value":"#d20000"}}},
{"data":{"name":"candles"},"mark":{"type":"bar","size":5,"orient":"vertical"},
"encoding":{"y":{"field":"o","type":"quantitative","title":null,"scale":{"domain":[35.03,118.8],"range":[733,0],"nice":false,"zero":false},"axis":{"orient":"right","offset":-66,"values":[112.29,107.99,103.69,99.38,95.08,90.78,86.48,82.18,73.57,69.27,64.97,60.67,56.36,52.06,47.76,43.46,39.16,35.5],"labelExpr":"datum.value==35.5?'34.85':format(datum.value,'.2f')","labelPadding":6,"labelFont":"Roboto","labelFontSize":12,"labelColor":"#3c4650","labelOverlap":false,"labelBound":false,"ticks":false,"domain":false,"grid":false}},"y2":{"field":"c"},
"color":{"condition":{"test":"datum.c>=datum.o","value":"#007f5c"},"value":"#d20000"}}},
{"data":{"name":"sma"},"mark":{"type":"line","strokeWidth":1.3,"opacity":0.85},
"encoding":{"color":{"field":"s","type":"nominal","legend":null,"scale":{"domain":["SMA200","SMA50","SMA20"],"range":["#5c64bc","#2b9673","#e03030"]}}}},
{"data":{"values":[{"w":-0.76,"w2":289.0,"p":78.16}]},"mark":{"type":"rule","strokeWidth":1.2,"color":"#4a5a64"},"encoding":{"x2":{"field":"w2"}}},
{"data":{"values":[{"g":"upper","w":116.4,"p":100.33},{"g":"upper","w":221.5,"p":118.8},{"g":"lower","w":21.85,"p":36.44},{"g":"lower","w":274.05,"p":71.25}]},"mark":{"type":"line","strokeWidth":3,"color":"#f01a2a"},"encoding":{"detail":{"field":"g"}}},
{"data":{"values":[{"w":260.7,"p":88.71},{"w":269.9,"p":88.71}]},"mark":{"type":"line","strokeWidth":5,"strokeCap":"round","color":"#ee1c25"},"encoding":{}},
{"data":{"name":"rings"},"mark":{"type":"line","strokeWidth":3,"color":"#3c46c8","interpolate":"cardinal-closed"},"encoding":{"detail":{"field":"g"},"order":{"field":"n"}}},
{"data":{"values":[{"w":292.87,"p":78.18}]},"mark":{"type":"point","filled":true,"opacity":1,"color":"#455a66","size":3600,"shape":"M-1,0 L-0.77,-0.278 L1,-0.278 L1,0.278 L-0.77,0.278 Z"},"encoding":{}},
{"data":{"values":[{"w":289.97,"p":78.07,"t":"78.16"}]},"mark":{"type":"text","fontSize":12,"align":"left","baseline":"middle","color":"#ffffff"},"encoding":{"text":{"field":"t"}}},
{"data":{"values":[{"w":132.52,"w2":143.48,"p":65.54,"p2":57.66}]},"mark":{"type":"rect","color":"#f9333f","cornerRadius":2},"encoding":{"x2":{"field":"w2"},"y2":{"field":"p2"}}},
{"data":{"values":[{"w":138.0,"p":61.6}]},"mark":{"type":"point","filled":true,"opacity":1,"color":"#ffffff","size":4624,"shape":"M-.79,-.21 L-.19,-.32 L.06,-.23 L.79,-.52 L.32,-.03 L.89,.53 L.06,.22 L-.28,.35 L-.87,.21 L-.33,.01 Z"},"encoding":{}},
{"data":{"values":[{"w":145.58,"p":60.43,"t":"xtb"}]},"mark":{"type":"text","font":"DejaVu Sans","fontWeight":"bold","fontSize":53,"align":"left","baseline":"alphabetic","color":"#000000"},"encoding":{"text":{"field":"t"}}},
{"data":{"values":[{"w":145.58,"p":58.55,"t":"online investing"}]},"mark":{"type":"text","font":"Open Sans","fontSize":13.5,"align":"left","baseline":"alphabetic","color":"#222222"},"encoding":{"text":{"field":"t"}}},
{"data":{"values":[{"w":3.92,"p":38.8,"t":"SMA [200,  0] 88.52"},{"w":3.92,"p":37.23,"t":"SMA [50,  0] 94.52"},{"w":3.92,"p":35.63,"t":"SMA [20,  0] 85.24"}]},"mark":{"type":"text","fontSize":11,"align":"left","baseline":"middle","color":"#8a8a8a"},"encoding":{"text":{"field":"t"}}},
{"data":{"values":[{"w":-0.11,"p":38.9,"t":"≣"},{"w":-0.11,"p":37.33,"t":"≣"},{"w":-0.11,"p":35.73,"t":"≣"},{"w":2,"p":38.9,"t":"✖"},{"w":2,"p":37.33,"t":"✖"},{"w":2,"p":35.73,"t":"✖"}]},"mark":{"type":"text","font":"DejaVu Sans","fontSize":12,"align":"left","baseline":"middle","color":"#bdbdbd"},"encoding":{"text":{"field":"t"}}},
{"data":{"values":[{"w":2.15,"p":116.63,"t":"BMW.DE"}]},"mark":{"type":"text","fontWeight":"bold","fontSize":12,"align":"left","baseline":"middle","color":"#3c4a54"},"encoding":{"text":{"field":"t"}}},
{"data":{"values":[{"w":10.2,"p":116.63,"t":"CFD"}]},"mark":{"type":"text","fontSize":8.5,"align":"left","baseline":"middle","color":"#8a8a8a"},"encoding":{"text":{"field":"t"}}},
{"data":{"values":[{"w":14.48,"p":116.97},{"w":26.8,"p":116.86}]},"mark":{"type":"point","shape":"triangle-down","filled":true,"opacity":1,"size":35,"color":"#8a8a8a"},"encoding":{}},
{"data":{"values":[{"w":21.0,"w2":27.95,"p":117.66,"p2":115.94}]},"mark":{"type":"rect","fillOpacity":0,"stroke":"#dddddd","strokeWidth":1,"cornerRadius":2},"encoding":{"x2":{"field":"w2"},"y2":{"field":"p2"}}},
{"data":{"values":[{"w":22.0,"p":116.63,"t":"W1"}]},"mark":{"type":"text","fontSize":11,"align":"left","baseline":"middle","color":"#555555"},"encoding":{"text":{"field":"t"}}},
{"data":{"values":[{"w":279.99,"p":37.2,"t":"04"},{"w":284.66,"p":37.2,"t":"05"}]},"mark":{"type":"text","fontSize":14,"align":"left","baseline":"middle","color":"#ffa31a"},"encoding":{"text":{"field":"t"}}},
{"data":{"values":[{"w":282.73,"p":37.2,"t":"d"},{"w":287.4,"p":37.2,"t":"h"}]},"mark":{"type":"text","fontSize":14,"align":"left","baseline":"middle","color":"#c0c0c0"},"encoding":{"text":{"field":"t"}}}
]
}
